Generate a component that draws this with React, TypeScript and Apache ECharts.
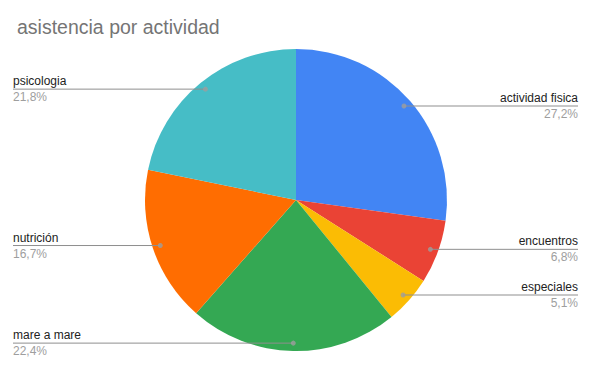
import React, { useEffect, useRef } from "react";
import * as echarts from "echarts";

const TITLE = "asistencia por actividad";
const categories = ["actividad fisica", "encuentros", "especiales", "mare a mare", "nutrición", "psicologia"];
const values = [27.2, 6.8, 5.1, 22.4, 16.7, 21.8];
const colors = ["#4285F4", "#EA4335", "#FBBC04", "#34A853", "#FF6D01", "#46BDC6"];

export default function App() {
  const ref = useRef<HTMLDivElement>(null);
  useEffect(() => {
    if (!ref.current) return;
    const chart = echarts.init(ref.current, undefined, { renderer: "svg" });
    const total = values.reduce((a, b) => a + b, 0);
    let acc = 0;
    const mids = values.map((v) => {
      const m = ((acc + v / 2) / total) * 100;
      acc += v;
      return m;
    });
    const dotR = 0.948;
    const center = [296, 200];
    const R = 151;
    const data = categories.map((c, i) => ({ name: c, value: values[i] }));
    chart.setOption({
      animation: false,
      title: {
        text: TITLE,
        left: 12,
        top: 12,
        textStyle: { color: "#757575", fontSize: 19.5, fontWeight: "normal", fontFamily: "Liberation Sans, Arial, sans-serif" },
      },
      polar: { center, radius: R },
      angleAxis: { type: "value", min: 0, max: 100, startAngle: 90, clockwise: true, show: false },
      radiusAxis: { type: "value", min: 0, max: 1, show: false },
      series: [
        {
          type: "pie",
          center,
          radius: [0, R],
          startAngle: 90,
          clockwise: true,
          data,
          color: colors,
          label: { show: false },
          labelLine: { show: false },
          itemStyle: { borderWidth: 0 },
          emphasis: { disabled: true },
          z: 1,
        },
        {
          type: "pie",
          center,
          radius: [0, R * dotR],
          startAngle: 90,
          clockwise: true,
          data,
          silent: true,
          itemStyle: { color: "rgba(0,0,0,0)", borderWidth: 0 },
          emphasis: { disabled: true },
          label: {
            show: true,
            alignTo: "edge",
            edgeDistance: 13,
            minMargin: 4,
            formatter: (p: any) => `{n|${p.name}}\n{p|${p.percent.toFixed(1).replace(".", ",")}%}`,
            rich: {
              n: { color: "#222222", fontSize: 12, lineHeight: 16, fontFamily: "Liberation Sans, Arial, sans-serif" },
              p: { color: "#9e9e9e", fontSize: 12, lineHeight: 16, fontFamily: "Liberation Sans, Arial, sans-serif" },
            },
          },
          labelLine: {
            show: true,
            length: 0,
            length2: 0,
            smooth: false,
            lineStyle: { color: "#8f8f8f", width: 1 },
          },
          labelLayout: (params: any) => {
            const isLeft = params.labelRect.x < 296;
            const points = params.labelLinePoints;
            if (points) {
              points[2][0] = isLeft ? params.labelRect.x : params.labelRect.x + params.labelRect.width;
            }
            return { labelLinePoints: points };
          },
          z: 2,
        },
        {
          type: "scatter",
          coordinateSystem: "polar",
          data: mids.map((m) => [dotR, m]),
          symbolSize: 5,
          itemStyle: { color: "#9e9e9e" },
          silent: true,
          z: 3,
        },
      ],
    });
    return () => chart.dispose();
  }, []);
  return <div ref={ref} style={{ position: "absolute", left: 0, top: 0, width: 591, height: 385 }} />;
}
